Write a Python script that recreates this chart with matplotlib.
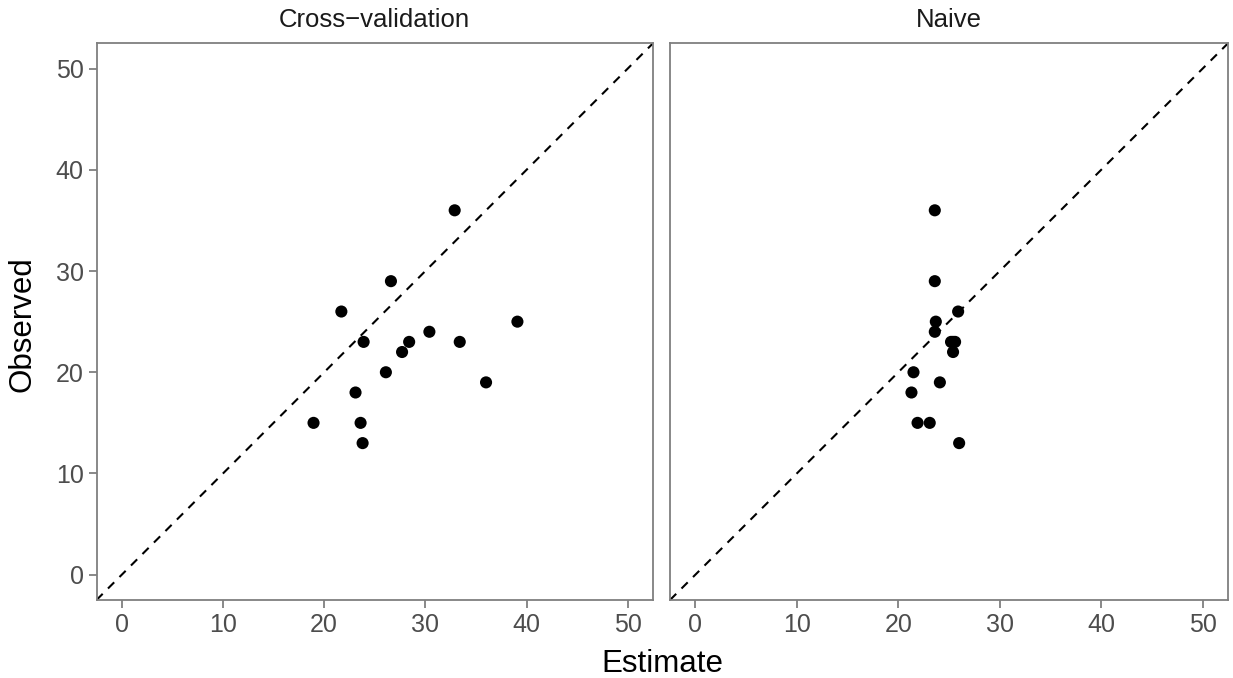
import matplotlib
matplotlib.use("Agg")
import matplotlib.pyplot as plt

plt.rcParams['font.family'] = ['Liberation Sans', 'DejaVu Sans']

panels = ["Cross\u2212validation", "Naive"]
observed = [36, 29, 26, 25, 24, 23, 23, 23, 22, 20, 19, 18, 15, 15, 13]
estimate_cv = [32.9, 26.6, 21.7, 39.1, 30.4, 23.9, 28.4, 33.4, 27.7, 26.1, 36.0, 23.1, 18.95, 23.6, 23.8]
estimate_naive = [23.6, 23.6, 25.9, 23.7, 23.6, 25.2, 25.6, 25.4, 25.4, 21.5, 24.1, 21.3, 21.9, 23.1, 26.0]
ticks = [0, 10, 20, 30, 40, 50]
lims = (-2.5, 52.5)

W, H = 1233, 678
fig = plt.figure(figsize=(W / 100, H / 100), dpi=100)

boxes = [(96.5, 653), (670, 1228)]
top, bottom = 43.3, 600
grey = "#7f7f7f"
estimates = [estimate_cv, estimate_naive]

for i, ((x0, x1), name, est) in enumerate(zip(boxes, panels, estimates)):
    ax = fig.add_axes([x0 / W, (H - bottom) / H, (x1 - x0) / W, (bottom - top) / H])
    ax.set_xlim(lims)
    ax.set_ylim(lims)
    ax.axline((0, 0), slope=1, color="black", lw=1.5, ls=(0, (4.2, 3.6)),
              dash_capstyle="butt", zorder=2)
    ax.scatter(est, observed, s=76, color="black", edgecolors="none", zorder=3)
    ax.set_xticks(ticks)
    ax.set_yticks(ticks)
    for sp in ax.spines.values():
        sp.set_color(grey)
        sp.set_linewidth(1.3)
    ax.tick_params(colors=grey, length=5.6, width=1.3, labelcolor="#4d4d4d", labelsize=18, pad=3.5)
    if i == 1:
        ax.tick_params(axis="y", left=False, labelleft=False)
    fig.text((x0 + x1) / 2 / W, 1 - 27 / H, name, ha="center", va="baseline",
             fontsize=18.5, color="#1a1a1a")

fig.text(662.5 / W, 1 - 672.3 / H, "Estimate", ha="center", va="baseline", fontsize=22.5, color="black")
fig.text(23 / W, 1 - 324 / H, "Observed", ha="center", va="center", rotation=90, fontsize=22.5, color="black")

fig.savefig("out.png", dpi=100)
